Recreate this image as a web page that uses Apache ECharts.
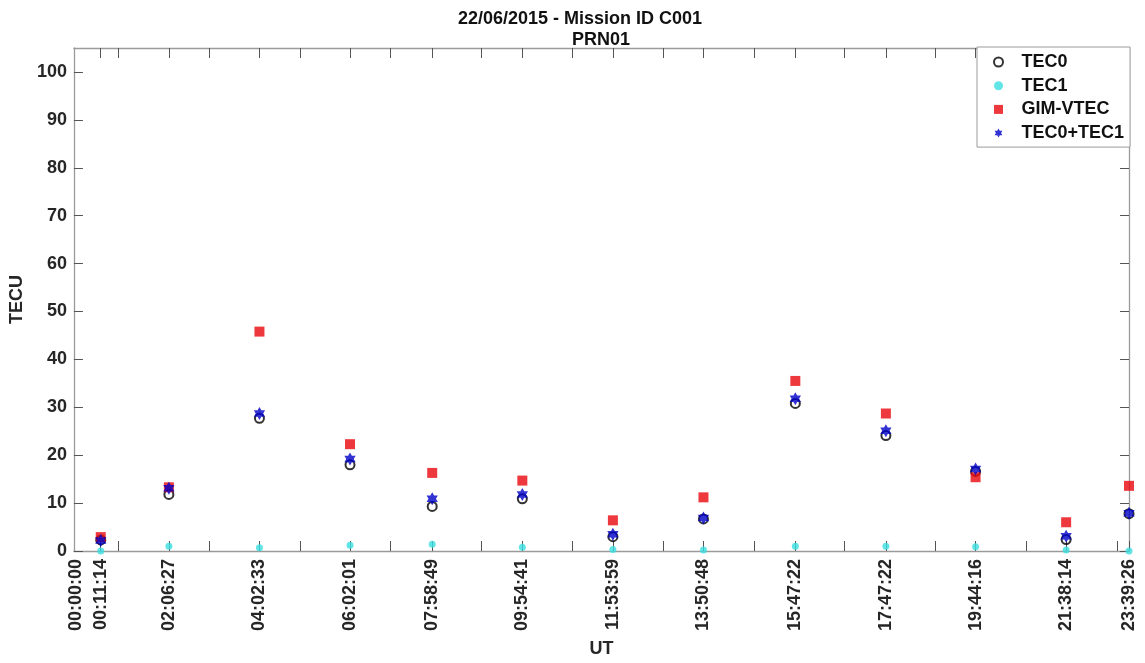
<!DOCTYPE html>
<html>
<head>
<meta charset="utf-8">
<script src="https://cdn.jsdelivr.net/npm/echarts@6/dist/echarts.min.js"></script>
<style>html,body{margin:0;padding:0;background:#fff;}#c{width:1145px;height:663px;}</style>
</head>
<body>
<div id="c"></div>
<script>
// ---- data ----
const timeLabels = ['00:00:00','00:11:14','02:06:27','04:02:33','06:02:01','07:58:49','09:54:41','11:53:59','13:50:48','15:47:22','17:47:22','19:44:16','21:38:14','23:39:26'];
const labelPos   = [0.05, 0.61, 2.16, 4.22, 6.28, 8.15, 10.2, 12.26, 14.32, 16.41, 18.47, 20.51, 22.57, 24.0];
const pointPos   = [0.61, 2.16, 4.22, 6.28, 8.15, 10.2, 12.26, 14.32, 16.41, 18.47, 20.51, 22.57, 24.0];
const minorTicks = [1.007, 3.075, 5.14, 7.20, 9.27, 11.34, 13.40, 15.47, 17.53, 19.60, 21.67, 23.73];
const tec0   = [2.3, 11.8, 27.7, 18.0, 9.3, 10.9, 3.0, 6.7, 30.8, 24.1, 16.6, 2.4, 7.8];
const tec1   = [0.0, 1.0, 0.7, 1.2, 1.4, 0.8, 0.3, 0.2, 1.0, 1.0, 0.9, 0.2, 0.0];
const gim    = [2.9, 13.3, 45.8, 22.3, 16.3, 14.7, 6.4, 11.2, 35.5, 28.7, 15.4, 6.0, 13.6];
const tecSum = [2.2, 13.1, 28.7, 19.2, 10.9, 11.8, 3.5, 6.9, 31.8, 25.1, 17.1, 3.1, 7.9];
const yTicks = [0,10,20,30,40,50,60,70,80,90,100];

function pairs(xs, ys){ return xs.map((x,i)=>[x, ys[i]]); }
function hexagram(){
  let d='';
  for(let i=0;i<12;i++){
    const r = i%2===0 ? 1 : 0.5774;
    const a = -Math.PI/2 + i*Math.PI/6;
    d += (i?'L':'M') + (r*Math.cos(a)).toFixed(3) + ' ' + (r*Math.sin(a)).toFixed(3) + ' ';
  }
  return 'path://' + d + 'Z';
}
const STAR = hexagram();
const SQUARE = 'path://M0 0L1 0L1 1L0 1Z';
const allTicks = minorTicks.concat(pointPos);
const FONT = '"Liberation Sans", Arial, sans-serif';
const axisLineStyle = {color:'#9a9a9a', width:1.3};
const tickStyle = {color:'#555', width:1};

const chart = echarts.init(document.getElementById('c'), null, {renderer:'canvas'});
chart.setOption({
  backgroundColor:'#fff',
  animation:false,
  title:[
    {text:'22/06/2015 - Mission ID C001', left:453, top:5, textStyle:{fontFamily:FONT, fontSize:18, fontWeight:'bold', color:'#111'}},
    {text:'PRN01', left:567, top:26, textStyle:{fontFamily:FONT, fontSize:18, fontWeight:'bold', color:'#111'}}
  ],
  grid:{left:73, right:16, top:48, bottom:110, containLabel:false},
  legend:{
    orient:'vertical', left:977, top:47,
    padding:[6,6,5,16],
    itemWidth:36, itemHeight:9, itemGap:5.7,
    backgroundColor:'#fff', borderColor:'#9a9a9a', borderWidth:1,
    textStyle:{fontFamily:FONT, fontSize:18, fontWeight:'bold', color:'#111'},
    data:['TEC0','TEC1','GIM-VTEC','TEC0+TEC1']
  },
  xAxis:[
    {type:'value', min:0, max:24, position:'bottom',
     name:'UT', nameLocation:'middle', nameGap:89,
     nameTextStyle:{fontFamily:FONT, fontSize:18, fontWeight:'bold', color:'#262626'},
     axisLine:{show:true, onZero:false, lineStyle:axisLineStyle},
     axisTick:{show:true, inside:true, length:10, customValues:allTicks, lineStyle:tickStyle},
     axisLabel:{show:true, rotate:90, margin:8, customValues:labelPos,
       fontFamily:FONT, fontSize:18, fontWeight:'bold', color:'#262626',
       formatter:function(v){ const i=labelPos.findIndex(p=>Math.abs(p-v)<1e-6); return i>=0?timeLabels[i]:''; }},
     splitLine:{show:false}},
    {type:'value', min:0, max:24, position:'top',
     axisLine:{show:true, onZero:false, lineStyle:axisLineStyle},
     axisTick:{show:true, inside:true, length:10, customValues:allTicks, lineStyle:tickStyle},
     axisLabel:{show:false}, splitLine:{show:false}}
  ],
  yAxis:[
    {type:'value', min:0, max:105, position:'left',
     name:'TECU', nameLocation:'middle', nameGap:45, nameRotate:90,
     nameTextStyle:{fontFamily:FONT, fontSize:18, fontWeight:'bold', color:'#262626'},
     axisLine:{show:true, onZero:false, lineStyle:axisLineStyle},
     axisTick:{show:true, inside:true, length:9, customValues:yTicks, lineStyle:tickStyle},
     axisLabel:{show:true, margin:7, customValues:yTicks, fontFamily:FONT, fontSize:18, fontWeight:'bold', color:'#262626'},
     splitLine:{show:false}},
    {type:'value', min:0, max:105, position:'right',
     axisLine:{show:true, onZero:false, lineStyle:axisLineStyle},
     axisTick:{show:true, inside:true, length:9, customValues:yTicks, lineStyle:tickStyle},
     axisLabel:{show:false}, splitLine:{show:false}}
  ],
  series:[
    {name:'TEC0', type:'scatter', data:pairs(pointPos, tec0), symbol:'circle', symbolSize:9,
     itemStyle:{color:'rgba(255,255,255,0)', borderColor:'#000', borderWidth:2}},
    {name:'TEC1', type:'scatter', data:pairs(pointPos, tec1), symbol:'circle', symbolSize:7,
     itemStyle:{color:'#3adfe0'}},
    {name:'GIM-VTEC', type:'scatter', data:pairs(pointPos, gim), symbol:SQUARE, symbolSize:10, symbolKeepAspect:true,
     itemStyle:{color:'#e8080c'}},
    {name:'TEC0+TEC1', type:'scatter', data:pairs(pointPos, tecSum), symbol:STAR, symbolSize:13, symbolKeepAspect:true,
     itemStyle:{color:'#0000c8'}}
  ]
});
</script>
</body>
</html>
